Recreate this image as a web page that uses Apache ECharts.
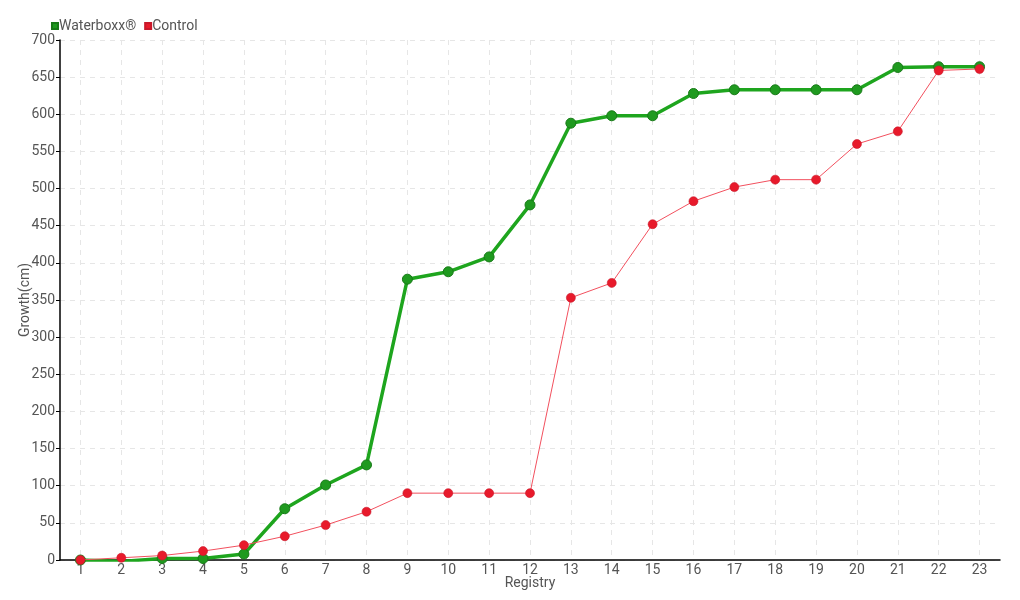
<!DOCTYPE html>
<html><head><meta charset="utf-8">
<script src="https://cdn.jsdelivr.net/npm/echarts@6/dist/echarts.min.js"></script>
<style>html,body{margin:0;padding:0;background:#fff}#c{width:1020px;height:600px}</style>
</head><body><div id="c"></div>
<script>
var categories = ['1','2','3','4','5','6','7','8','9','10','11','12','13','14','15','16','17','18','19','20','21','22','23'];
var waterboxx = [0,-2,2,2,8,69,101,128,378,388,408,478,588,598,598,628,633,633,633,633,663,664,664];
var control = [0,3,6,12,20,32,47,65,90,90,90,90,353,373,452,483,502,512,512,560,577,659,661];
var seriesNames = ['Waterboxx®','Control'];
var FONT = 'Roboto, "DejaVu Sans Condensed", sans-serif';
var chart = echarts.init(document.getElementById('c'));
chart.setOption({
  animation:false,
  textStyle:{fontFamily:FONT},
  legend:{left:46, top:14, itemWidth:6, itemHeight:6, itemGap:8,
    icon:'rect',
    textStyle:{fontFamily:FONT, fontSize:14, color:'#555', padding:[0,0,0,-4]},
    data:seriesNames},
  grid:{left:60, right:20, top:40, bottom:40, containLabel:false, outerBoundsMode:'none'},
  xAxis:{type:'category', data:categories, boundaryGap:true,
    name:'Registry', nameLocation:'middle', nameGap:16, nameMoveOverlap:false,
    nameTextStyle:{fontFamily:FONT, fontSize:14, color:'#555'},
    axisLine:{lineStyle:{color:'#000', width:1.5}},
    axisTick:{alignWithLabel:true, length:4, lineStyle:{color:'#000'}},
    axisLabel:{fontFamily:FONT, fontSize:14, color:'#555', margin:3},
    splitLine:{show:true, alignWithLabel:true, lineStyle:{color:'#e6e6e6', type:[5,5]}}},
  yAxis:{type:'value', min:0, max:700, interval:50,
    name:'Growth(cm)', nameLocation:'middle', nameGap:28, nameMoveOverlap:false,
    nameTextStyle:{fontFamily:FONT, fontSize:14, color:'#555'},
    axisLine:{show:true, lineStyle:{color:'#000', width:1.5}},
    axisTick:{show:true, length:4, lineStyle:{color:'#000'}},
    axisLabel:{fontFamily:FONT, fontSize:14, color:'#555', margin:5},
    splitLine:{show:true, lineStyle:{color:'#e6e6e6', type:[5,5]}}},
  series:[
    {name:seriesNames[0], type:'line', data:waterboxx, symbol:'circle', symbolSize:10,
      z:2,
      lineStyle:{color:'#1ea51e', width:3.5},
      itemStyle:{color:'#1f9a1f', borderColor:'#187a18', borderWidth:1}},
    {name:seriesNames[1], type:'line', data:control, symbol:'circle', symbolSize:9,
      z:3,
      lineStyle:{color:'#f2505e', width:1},
      itemStyle:{color:'#e81a2b', borderColor:'#c8182a', borderWidth:0.6}}
  ]
});
</script></body></html>
